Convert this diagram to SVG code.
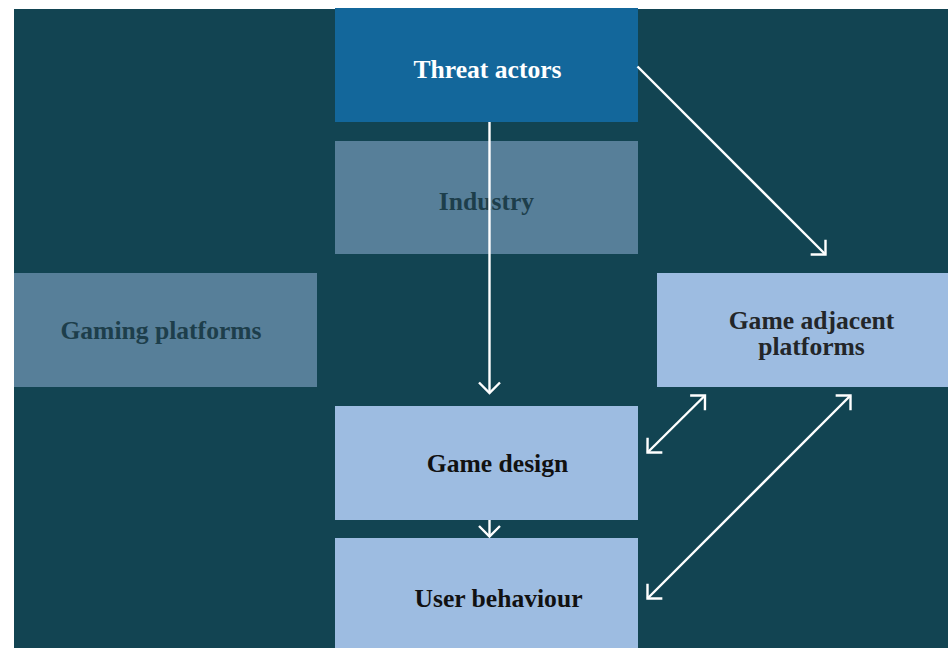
<svg xmlns="http://www.w3.org/2000/svg" width="948" height="648" viewBox="0 0 948 648">
<style>
.lbl{font-family:"Liberation Serif","Times New Roman",serif;font-weight:bold;font-size:25.6px;text-anchor:middle}
.conn{stroke:#ffffff;stroke-width:2.4;fill:none}
</style>
<defs>
<marker id="chev" markerUnits="userSpaceOnUse" markerWidth="30" markerHeight="30" viewBox="-15 -15 30 30" refX="0" refY="0" orient="auto-start-reverse" overflow="visible">
<path d="M-10.5,-10.5 L0,0 L-10.5,10.5" fill="none" stroke="#ffffff" stroke-width="2.4" stroke-linejoin="miter"/>
</marker>
</defs>
<rect x="0" y="0" width="948" height="648" fill="#ffffff"/>
<rect x="14" y="9" width="934" height="639" fill="#124452"/>
<g id="threat-actors">
<rect x="335" y="8" width="303" height="114" fill="#13679B"/>
<text class="lbl" x="487.5" y="77.5" fill="#ffffff">Threat actors</text>
</g>
<g id="industry">
<rect x="335" y="141" width="303" height="113" fill="#577F99"/>
<text class="lbl" x="486.5" y="209.5" fill="#1D3E4B">Industry</text>
</g>
<g id="gaming-platforms">
<rect x="14" y="273" width="303" height="114" fill="#577F99"/>
<text class="lbl" x="161" y="338.5" fill="#1D3E4B">Gaming platforms</text>
</g>
<g id="game-adjacent-platforms">
<rect x="657" y="273" width="291" height="114" fill="#9DBCE1"/>
<text class="lbl" x="811.5" y="328.5" fill="#232629">Game adjacent</text>
<text class="lbl" x="811.5" y="355" fill="#232629">platforms</text>
</g>
<g id="game-design">
<rect x="335" y="406" width="303" height="114" fill="#9DBCE1"/>
<text class="lbl" x="497.5" y="472" fill="#111111">Game design</text>
</g>
<g id="user-behaviour">
<rect x="335" y="538" width="303" height="110" fill="#9DBCE1"/>
<text class="lbl" x="498.5" y="606.5" fill="#111111">User behaviour</text>
</g>
<g id="connectors">
<line class="conn" x1="489.5" y1="122" x2="489.5" y2="393" marker-end="url(#chev)"/>
<line class="conn" x1="489.5" y1="520" x2="489.5" y2="536.5" marker-end="url(#chev)"/>
<line class="conn" x1="637.5" y1="66.5" x2="825.5" y2="254.5" marker-end="url(#chev)"/>
<line class="conn" x1="647.5" y1="452.5" x2="705" y2="395.5" marker-start="url(#chev)" marker-end="url(#chev)"/>
<line class="conn" x1="647.5" y1="598.5" x2="850.5" y2="395.5" marker-start="url(#chev)" marker-end="url(#chev)"/>
</g>
</svg>
